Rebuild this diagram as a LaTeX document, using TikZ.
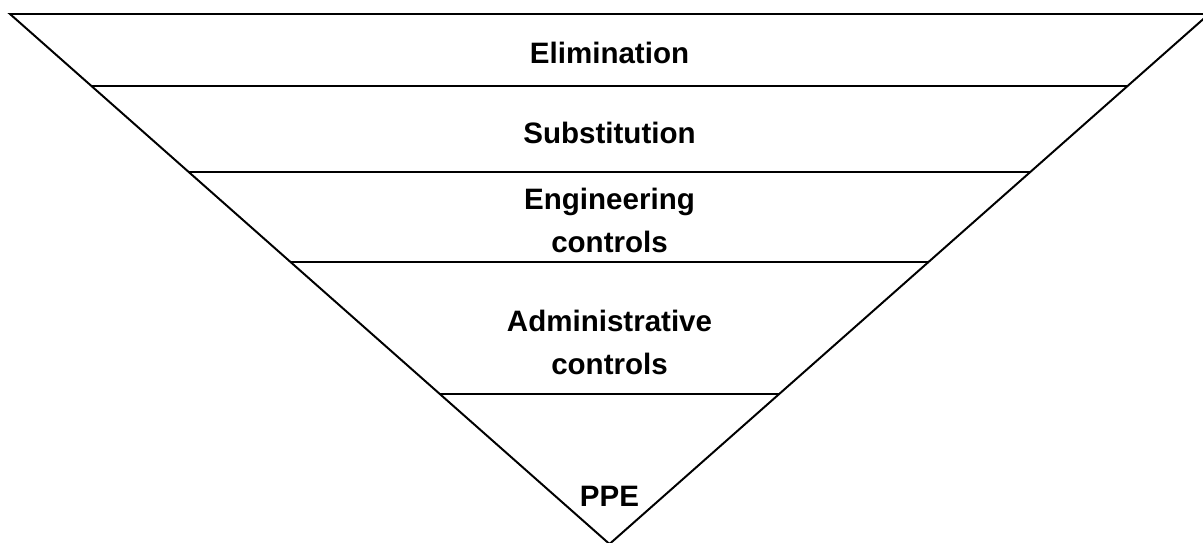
\documentclass[tikz,border=0pt]{standalone}
\usepackage{fontspec}
\setmainfont{Liberation Sans}
\usetikzlibrary{calc}

\begin{document}
\begin{tikzpicture}[x=0.025cm,y=-0.025cm]
\tikzset{level/.style = {font=\bfseries\fontsize{21}{30.5}\selectfont, align=center}}
\tikzset{rule/.style = {line width=1.4pt, black}}

\clip (0,0) rectangle (1203,542);

\coordinate (TL) at (10,14);
\coordinate (TR) at (1209,14);
\coordinate (P) at (609.5,544);

\draw[rule, line join=miter] (TL) -- (TR) -- (P) -- cycle;

\foreach \t in {0.1358,0.2972,0.4679,0.7170}
  \draw[rule] ($(TL)!\t!(P)$) -- ($(TR)!\t!(P)$);

\node[level, anchor=base] (E) at (609.5,63) {Elimination};
\node[level, anchor=base] (S) at (609.5,143) {Substitution};
\node[level] (EC) at (609.5,220) {Engineering\\controls};
\node[level] (AC) at (609.5,342) {Administrative\\controls};
\node[level, anchor=base] (PPE) at (609.5,506) {PPE};
\end{tikzpicture}
\end{document}
